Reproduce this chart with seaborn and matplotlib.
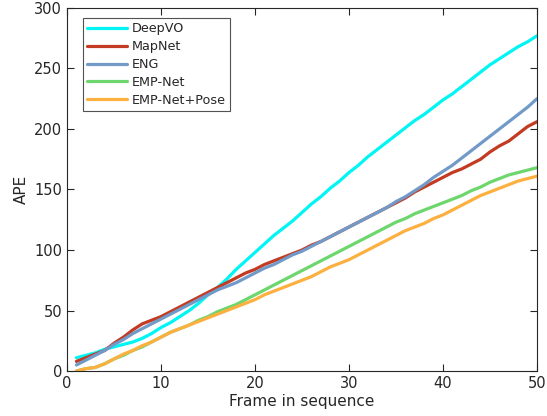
import numpy as np
import pandas as pd
import matplotlib
matplotlib.use("Agg")
import matplotlib.pyplot as plt
import seaborn as sns

frames = list(range(1, 51))
deepvo = [11, 13, 15, 18, 20, 22, 24, 27, 31, 36, 40, 45, 50, 56, 63, 69, 76, 84, 91, 98,
          105, 112, 118, 124, 131, 138, 144, 151, 157, 164, 170, 177, 183, 189, 195, 201, 207, 212, 218, 224,
          229, 235, 241, 247, 253, 258, 263, 268, 272, 277]
mapnet = [8, 11, 14, 17, 23, 28, 34, 39, 42, 45, 49, 53, 57, 61, 65, 69, 73, 77, 81, 84,
          88, 91, 94, 97, 100, 104, 107, 111, 115, 119, 123, 127, 131, 135, 139, 143, 148, 152, 156, 160,
          164, 167, 171, 175, 181, 186, 190, 196, 202, 206]
eng = [5, 9, 13, 17, 22, 26, 31, 35, 39, 43, 47, 51, 55, 59, 63, 67, 70, 73, 77, 81,
       85, 88, 92, 96, 99, 103, 107, 111, 115, 119, 123, 127, 131, 135, 140, 144, 149, 154, 160, 165,
       170, 176, 182, 188, 194, 200, 206, 212, 218, 225]
empnet = [0, 2, 3, 6, 10, 13, 17, 20, 24, 28, 32, 35, 38, 42, 45, 49, 52, 55, 59, 63,
          67, 71, 75, 79, 83, 87, 91, 95, 99, 103, 107, 111, 115, 119, 123, 126, 130, 133, 136, 139,
          142, 145, 149, 152, 156, 159, 162, 164, 166, 168]
emppose = [0, 2, 3, 6, 10, 14, 17, 21, 24, 28, 32, 35, 38, 41, 44, 47, 50, 53, 56, 59,
           63, 66, 69, 72, 75, 78, 82, 86, 89, 92, 96, 100, 104, 108, 112, 116, 119, 122, 126, 129,
           133, 137, 141, 145, 148, 151, 154, 157, 159, 161]

series_names = ["DeepVO", "MapNet", "ENG", "EMP-Net", "EMP-Net+Pose"]
series_vals = [deepvo, mapnet, eng, empnet, emppose]
colors = ["#00F5F5", "#C23B22", "#719AC9", "#6DD66D", "#FDB040"]

df = pd.concat([pd.DataFrame({"frame": frames, "APE": v, "method": n})
                for n, v in zip(series_names, series_vals)], ignore_index=True)

sns.set_style("white")
plt.rcParams['font.family'] = ['DejaVu Sans']
fig = plt.figure(figsize=(5.47, 4.16), dpi=100)
ax = fig.add_axes([0.1225, 0.108, 0.8592, 0.873])
sns.lineplot(data=df, x="frame", y="APE", hue="method", palette=colors,
             hue_order=series_names, linewidth=2.3, ax=ax)
ax.set_xlim(0, 50)
ax.set_ylim(0, 300)
ax.set_xticks(range(0, 51, 10))
ax.set_yticks(range(0, 301, 50))
ax.set_xlabel("Frame in sequence", fontsize=11, color="#262626", labelpad=2)
ax.set_ylabel("APE", fontsize=11, color="#262626", labelpad=4)
ax.tick_params(direction="in", length=5, width=0.8, colors="#262626", labelsize=10.5,
               top=True, right=True, bottom=True, left=True)
for s in ax.spines.values():
    s.set_color("#262626")
    s.set_linewidth(0.8)
leg = ax.legend(loc="upper left", bbox_to_anchor=(0.02, 0.99), fontsize=9.2, frameon=True,
                fancybox=False, edgecolor="#262626", handlelength=3.1, borderpad=0.35,
                labelspacing=0.38, handletextpad=0.35)
leg.get_frame().set_linewidth(0.8)
fig.savefig("out.png", dpi=100)
